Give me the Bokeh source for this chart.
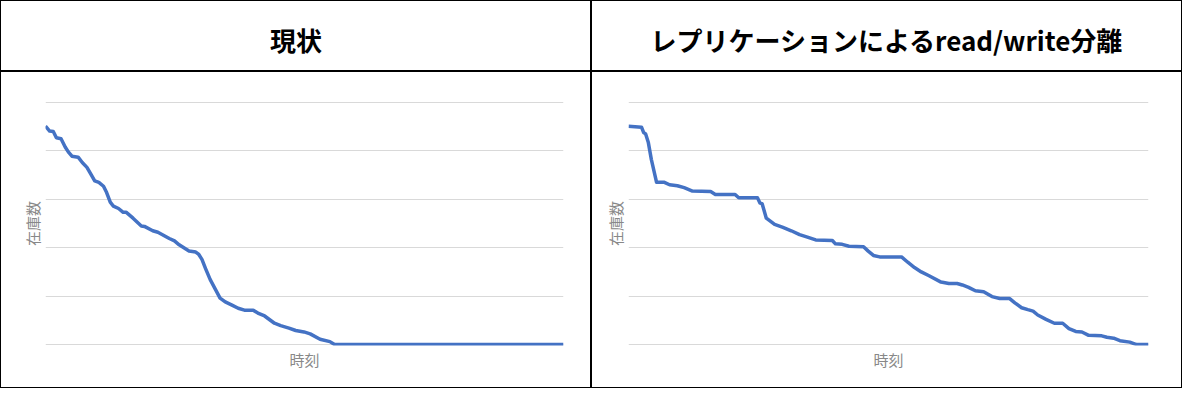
from bokeh.plotting import figure
from bokeh.layouts import row, column
from bokeh.models import Range1d, FixedTicker
from bokeh.core.properties import value
from bokeh.embed import file_html
from bokeh.resources import INLINE

# panel titles and axis labels
titles = ['現状', 'レプリケーションによるread/write分離']
x_label = '時刻'
y_label = '在庫数'
grid_ticks = [0, 100, 200, 300, 400, 500]

# current state: stock over time
time_current = [0, 0.8, 1.5, 2.1, 3.0, 3.8, 4.4, 5.1, 6.3, 7.1, 8.0, 8.7, 9.5, 10.3,
                11.2, 11.8, 12.5, 13.1, 14.1, 15.0, 15.6, 16.9, 18.5, 19.1, 20.7, 21.7,
                23.9, 24.9, 25.8, 27.7, 29.0, 29.6, 30.2, 30.9, 31.8, 32.8, 33.7, 34.7,
                35.9, 37.2, 38.4, 40.1, 41.0, 42.3, 44.2, 45.4, 47.0, 48.3, 49.9, 51.1,
                53.0, 54.9, 55.8, 100]
stock_current = [451, 441, 440, 427, 425, 408, 398, 389, 387, 376, 366, 353, 338, 335,
                 327, 314, 294, 286, 281, 273, 273, 261, 245, 244, 235, 232,
                 219, 214, 206, 193, 191, 186, 176, 157, 134, 114, 96, 88,
                 82, 75, 71, 71, 65, 59, 44, 39, 34, 29, 26, 22,
                 11, 6, 0, 0]

# replication (read/write split): stock over time
time_replica = [0, 2.5, 2.9, 3.3, 3.8, 4.4, 5.4, 6.9, 7.9, 9.4, 10.7, 12.3, 15.8, 16.7,
                20.5, 21.2, 24.8, 25.3, 25.7, 26.5, 28.1, 29.7, 31.3, 32.9, 34.4, 36.0,
                39.2, 39.8, 41.1, 42.4, 45.2, 46.1, 47.1, 48.3, 52.5, 53.7, 55.0, 56.3,
                57.8, 60.1, 61.6, 63.2, 64.2, 65.4, 66.7, 68.3, 69.9, 71.4, 73.3, 74.3,
                75.6, 76.8, 77.8, 78.7, 80.3, 81.9, 83.5, 84.7, 86.0, 87.2, 88.5, 91.0,
                92.0, 93.3, 94.5, 96.4, 97.7, 100]
stock_replica = [451, 449, 438, 435, 418, 382, 335, 335, 330, 328, 324, 317, 316, 310,
                 310, 303, 303, 292, 291, 261, 248, 242, 235, 227, 222, 216,
                 215, 208, 207, 203, 202, 193, 184, 181, 181, 170, 159, 150,
                 142, 129, 126, 126, 123, 118, 111, 109, 99, 95, 95, 86,
                 76, 72, 69, 61, 52, 44, 44, 33, 27, 26, 19, 18,
                 15, 13, 8, 5, 0, 0]

FONT = 'Noto Sans CJK JP'
CELL_W = 589
WHITE = {'background-color': 'white'}


def header(text):
    h = figure(width=CELL_W, height=69, x_range=Range1d(0, 1), y_range=Range1d(0, 1),
               x_axis_type=None, y_axis_type=None, toolbar_location=None,
               output_backend='svg', min_border=0, outline_line_color=None, styles=WHITE)
    h.grid.visible = False
    h.text(x=[0.5], y=[0.45], text=[text], text_align='center', text_baseline='middle',
           text_font=value(FONT), text_font_size='26px', text_font_style='bold',
           text_color='black')
    return h


def chart(t, stock, left, right):
    c = figure(width=CELL_W, height=315, x_range=Range1d(0, 100), y_range=Range1d(-2, 502),
               toolbar_location=None, output_backend='svg', outline_line_color=None,
               min_border_left=left, min_border_right=right,
               min_border_top=29, min_border_bottom=42, styles=WHITE)
    c.xgrid.visible = False
    # gridlines only, no tick labels
    c.xaxis.ticker = FixedTicker(ticks=[])
    c.yaxis.ticker = FixedTicker(ticks=[])
    c.ygrid.ticker = FixedTicker(ticks=grid_ticks)
    c.ygrid.grid_line_color = '#d9d9d9'
    c.ygrid.grid_line_width = 1
    for ax in (c.xaxis, c.yaxis):
        ax.axis_line_color = None
        ax.major_tick_line_color = None
        ax.minor_tick_line_color = None
        ax.major_label_standoff = 0
        ax.axis_label_text_font = FONT
        ax.axis_label_text_font_size = '15px'
        ax.axis_label_text_font_style = 'normal'
        ax.axis_label_text_color = '#888888'
        ax.axis_label_standoff = 3
    c.xaxis.axis_label = x_label
    c.yaxis.axis_label = y_label
    c.line(t, stock, line_color='#4472C4', line_width=3.5, line_join='round')
    return c


top = row(header(titles[0]), header(titles[1]), spacing=2)
bottom = row(chart(time_current, stock_current, 44, 27),
             chart(time_replica, stock_replica, 36, 33), spacing=2)
p = column(top, bottom, spacing=2,
           styles={'background-color': 'black', 'border': '1px solid black'})

open('out.html', 'w').write(file_html(p, INLINE))
